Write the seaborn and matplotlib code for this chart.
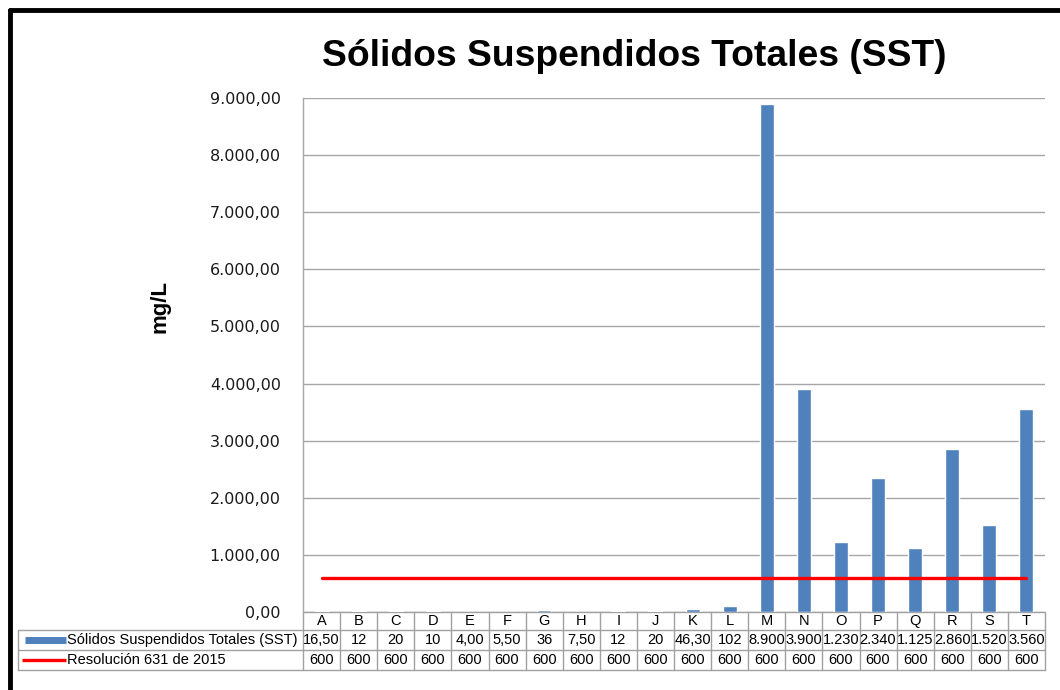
import matplotlib
matplotlib.use("Agg")
import matplotlib.pyplot as plt
import matplotlib.transforms as mtransforms
from matplotlib.ticker import FuncFormatter
import seaborn as sns
import pandas as pd

# ---- data ----
categories = list("ABCDEFGHIJKLMNOPQRST")
sst_values = [16.5, 12, 20, 10, 4.0, 5.5, 36, 7.5, 12, 20, 46.3, 102,
              8900, 3900, 1230, 2340, 1125, 2860, 1520, 3560]
sst_labels = ["16,50", "12", "20", "10", "4,00", "5,50", "36", "7,50", "12", "20",
              "46,30", "102", "8.900", "3.900", "1.230", "2.340", "1.125", "2.860",
              "1.520", "3.560"]
limit_values = [600] * 20
limit_labels = ["600"] * 20
series_names = ["Sólidos Suspendidos Totales (SST)", "Resolución 631 de 2015"]
title = "Sólidos Suspendidos Totales (SST)"
y_label = "mg/L"
y_ticks = [0, 1000, 2000, 3000, 4000, 5000, 6000, 7000, 8000, 9000]

bar_color = "#4F81BD"
line_color = "#FF0000"
grid_color = "#A6A6A6"
table_color = "#A0A0A0"

sns.set_theme(style="white")
plt.rcParams["font.family"] = ["Liberation Sans", "DejaVu Sans"]
plt.rcParams["text.color"] = "black"
plt.rcParams["axes.labelcolor"] = "black"

df = pd.DataFrame({"cat": categories, "sst": sst_values, "lim": limit_values})

fig = plt.figure(figsize=(10.6, 6.9), dpi=100)
ax = fig.add_axes([303 / 1060, 1 - 612 / 690, 742 / 1060, 514 / 690])

sns.barplot(data=df, x="cat", y="sst", color=bar_color, width=0.38,
            saturation=1, ax=ax, zorder=3)
sns.lineplot(x=range(len(categories)), y=df["lim"], color=line_color,
             linewidth=2.4, ax=ax, zorder=4)

ax.set_xlim(-0.5, len(categories) - 0.5)
ax.set_ylim(0, 9000)
ax.set_yticks(y_ticks)
ax.yaxis.set_major_formatter(FuncFormatter(
    lambda v, p: f"{v:,.2f}".replace(",", "X").replace(".", ",").replace("X", ".")))
ax.tick_params(axis="y", labelsize=11.5, colors="#1a1a1a", pad=16, length=0)
for lab in ax.get_yticklabels():
    lab.set_family(["DejaVu Sans"])
ax.set_xticks([])
ax.set_xlabel("")
ax.set_ylabel(y_label, fontsize=16, fontweight="bold")
ax.yaxis.set_label_coords(-0.179, 0.595)
ax.yaxis.grid(True, color=grid_color, linewidth=1.0, zorder=0)
ax.set_axisbelow(True)
for s in ["top", "right", "bottom"]:
    ax.spines[s].set_visible(False)
ax.spines["left"].set_color(grid_color)
ax.spines["left"].set_linewidth(1.0)

fig.text(634.5 / 1060, 1 - 57 / 690, title, ha="center", va="center",
         fontsize=26.8, fontweight="bold", color="black")

# ---- data table below the axes ----
trans = mtransforms.blended_transform_factory(ax.transData, ax.transAxes)
n = len(categories)
px = 1 / 514
r0, r1, r2, r3 = 0, -18 * px, -38 * px, -58 * px
x_left = -0.5 - 285 / 37.1
x_right = n - 0.5
kw = dict(transform=trans, clip_on=False, color=table_color, linewidth=1.0)

# horizontal lines
ax.plot([-0.5, x_right], [r0, r0], **kw)
ax.plot([x_left, x_right], [r1, r1], **kw)
ax.plot([x_left, x_right], [r2, r2], **kw)
ax.plot([x_left, x_right], [r3, r3], **kw)
# vertical lines
for i in range(n + 1):
    ax.plot([i - 0.5, i - 0.5], [r0, r3], **kw)
ax.plot([x_left, x_left], [r1, r3], **kw)

fs = 10.5
for i, c in enumerate(categories):
    ax.text(i, (r0 + r1) / 2, c, transform=trans, ha="center", va="center", fontsize=fs)
    ax.text(i, (r1 + r2) / 2, sst_labels[i], transform=trans, ha="center", va="center", fontsize=fs)
    ax.text(i, (r2 + r3) / 2, limit_labels[i], transform=trans, ha="center", va="center", fontsize=fs)

# legend keys in row labels
key_x0 = x_left + 7 / 37.1
key_x1 = x_left + 48 / 37.1
ax.plot([key_x0, key_x1], [(r1 + r2) / 2] * 2, transform=trans, clip_on=False,
        color=bar_color, linewidth=5, solid_capstyle="butt")
ax.plot([key_x0 - 0.08, key_x1], [(r2 + r3) / 2] * 2, transform=trans, clip_on=False,
        color=line_color, linewidth=2.4, solid_capstyle="butt")
ax.text(key_x1 + 0.03, (r1 + r2) / 2, series_names[0], transform=trans,
        ha="left", va="center", fontsize=fs)
ax.text(key_x1 + 0.03, (r2 + r3) / 2, series_names[1], transform=trans,
        ha="left", va="center", fontsize=fs)

# outer frame (left and top black border)
fig.add_artist(plt.Line2D([10 / 1060, 10 / 1060], [0, 1 - 10 / 690], color="black", linewidth=3.5))
fig.add_artist(plt.Line2D([10 / 1060, 1], [1 - 10 / 690, 1 - 10 / 690], color="black", linewidth=3.5))

fig.savefig("out.png", dpi=100, facecolor="white")
